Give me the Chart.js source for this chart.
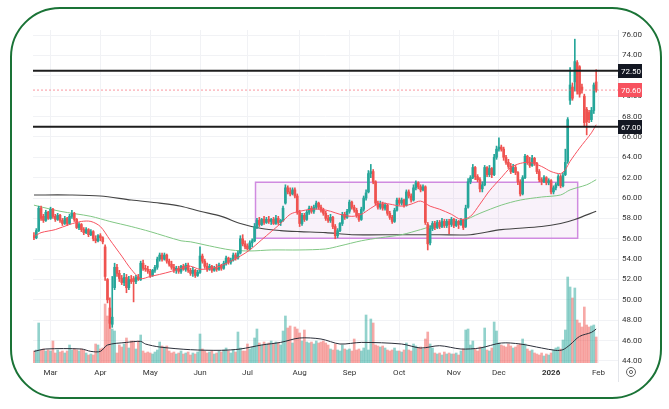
<!DOCTYPE html>
<html>
<head>
<meta charset="utf-8">
<script src="https://cdn.jsdelivr.net/npm/chart.js@4/dist/chart.umd.min.js"></script>
<style>
  html, body { margin: 0; padding: 0; background: #fff; }
  #wrap { position: relative; width: 669px; height: 409px; }
  #frame {
    position: absolute; left: 10px; top: 7px; width: 652px; height: 392px;
    border: 2.2px solid #1a7336; border-radius: 50px; box-sizing: border-box;
    pointer-events: none;
  }
</style>
</head>
<body>
<div id="wrap">
  <canvas id="chart" width="669" height="409"></canvas>
  <div id="frame"></div>
</div>
<script>
// daily bars, index 0 = 20 Feb 2025 ... 237 = 30 Jan 2026
const opens = [56.3,56.1,56.8,59.0,58.2,57.8,58.6,58.0,58.9,58.2,57.9,58.3,57.8,57.5,58.0,57.5,58.2,58.5,57.9,57.1,
  57.4,56.9,56.6,56.9,56.4,56.7,56.0,55.8,56.3,56.1,55.2,52.0,49.2,47.6,51.2,53.2,52.6,52.1,51.7,52.2,
  51.2,52.0,52.1,51.8,52.2,52.0,53.6,53.1,53.0,52.8,52.4,52.9,53.2,54.0,54.4,54.0,54.4,53.8,53.5,53.2,
  52.9,53.1,52.8,53.3,53.0,53.4,52.9,52.6,52.9,52.4,52.7,54.3,53.8,53.3,53.0,53.3,52.9,53.1,53.0,53.4,
  53.1,53.6,54.1,53.7,53.9,54.4,54.1,54.6,56.0,55.5,55.3,55.0,55.6,55.8,57.2,57.8,57.4,57.9,57.6,57.9,
  57.7,57.9,57.5,58.0,57.6,57.8,59.5,61.0,60.6,60.4,60.8,60.2,58.6,57.5,58.3,57.9,58.6,59.0,58.7,59.1,
  59.5,59.1,58.8,58.5,58.0,57.8,58.1,57.2,56.3,56.8,57.5,58.4,58.1,58.7,59.6,59.1,58.8,58.3,57.9,58.9,
  60.0,60.6,62.4,62.6,61.6,59.5,59.1,59.4,59.0,59.3,58.5,58.1,57.7,58.8,59.8,59.5,59.8,59.3,60.6,60.2,
  59.8,61.0,61.5,61.1,60.8,61.1,57.4,55.6,57.0,57.5,57.1,57.6,57.2,57.7,57.3,57.7,57.4,57.9,57.3,57.7,
  57.4,57.8,57.2,59.1,61.6,62.0,63.0,62.1,61.8,60.9,61.3,63.0,62.3,62.9,62.3,64.0,64.8,65.0,64.8,64.0,
  63.5,63.1,62.6,63.0,62.5,61.6,60.4,62.0,64.1,63.5,63.2,63.9,63.4,62.6,61.8,61.6,62.0,61.5,61.7,60.6,
  61.0,61.3,62.1,61.2,62.3,63.6,69.6,70.9,71.4,73.3,72.9,70.9,70.0,68.7,68.4,67.7,68.6,71.4];
const highs = [56.6,57.0,59.2,59.2,58.4,58.8,58.7,59.1,59.0,58.4,58.5,58.4,58.0,58.2,58.1,58.4,58.8,58.6,58.0,57.6,
  57.5,57.1,57.1,57.0,56.9,56.8,56.3,56.4,56.5,56.2,55.4,52.1,50.2,52.3,53.6,53.5,52.9,52.4,52.6,52.5,
  52.3,52.4,52.3,52.4,52.5,53.8,53.9,53.4,53.3,53.0,53.0,53.4,54.2,54.6,54.6,54.6,54.5,54.0,53.8,53.5,
  53.3,53.3,53.4,53.5,53.6,53.6,53.1,53.2,53.0,52.9,55.2,54.5,54.0,53.6,53.5,53.4,53.3,53.5,53.6,53.5,
  53.8,54.3,54.2,54.1,54.6,54.6,54.8,56.3,56.4,55.8,55.5,55.8,56.0,57.5,58.0,58.1,58.0,58.2,58.1,58.2,
  58.0,58.1,58.3,58.2,57.9,59.2,61.3,61.2,61.0,61.0,61.0,60.4,58.8,58.5,58.5,58.8,59.2,59.2,59.3,59.7,
  59.6,59.3,59.0,58.7,58.3,58.4,58.2,57.4,57.0,57.6,58.6,58.6,58.9,59.8,59.7,59.3,59.0,58.5,59.1,60.2,
  60.8,62.7,63.3,62.8,61.7,59.7,59.7,59.6,59.5,59.4,58.7,58.3,59.0,60.0,60.0,60.0,59.9,60.8,60.8,60.4,
  61.3,61.7,61.6,61.3,61.3,61.2,57.6,57.3,57.7,57.7,57.8,57.8,58.0,57.9,57.9,57.9,58.1,58.0,57.9,57.8,
  58.0,57.9,59.3,61.9,62.2,63.3,63.1,62.3,62.0,61.6,63.2,63.1,63.2,63.0,64.3,65.1,65.9,65.2,65.0,64.2,
  63.8,63.4,63.3,63.2,62.6,61.8,62.2,64.3,64.2,64.0,64.2,64.0,63.5,62.8,62.0,62.2,62.1,61.9,61.8,61.2,
  61.5,62.3,62.3,62.5,64.8,67.9,72.8,71.3,75.6,73.5,73.0,71.2,70.2,68.9,68.6,68.9,71.3,72.6];
const lows = [55.9,56.0,56.7,57.8,57.6,57.7,57.9,57.9,58.0,57.7,57.8,57.6,57.3,57.4,57.3,57.4,58.0,57.7,57.0,56.9,
  56.7,56.4,56.5,56.2,56.3,55.8,55.6,55.7,55.8,55.5,51.9,49.7,47.2,47.3,51.0,52.3,51.8,51.5,51.4,50.7,
  51.0,51.6,49.8,51.6,51.9,51.9,52.9,52.8,52.6,52.2,52.3,52.7,53.0,53.8,53.8,53.9,53.6,53.3,53.0,52.7,
  52.6,52.6,52.6,52.9,52.8,52.7,52.4,52.3,52.2,52.3,52.6,53.6,53.1,52.8,52.9,52.7,52.8,52.8,52.9,52.9,
  53.0,53.4,53.5,53.5,53.8,53.9,54.0,54.5,55.3,55.0,54.9,54.9,55.2,55.7,57.0,57.2,57.3,57.4,57.5,57.5,
  57.4,57.4,57.4,57.4,57.3,57.7,59.4,60.4,60.2,60.3,60.0,58.4,57.2,57.3,57.7,57.8,58.4,58.5,58.5,58.9,
  58.9,58.6,58.3,57.8,57.6,57.6,57.0,56.0,56.1,56.7,57.3,57.9,58.0,58.5,58.9,58.6,58.1,57.7,57.8,58.7,
  59.8,60.5,62.0,61.4,59.3,58.9,58.9,58.8,58.8,58.3,57.9,57.5,57.6,58.7,59.3,59.3,59.1,59.2,60.0,59.6,
  59.7,60.8,60.9,60.6,60.7,57.4,54.9,55.4,56.8,56.9,57.0,57.0,57.1,57.1,57.1,56.5,57.2,57.1,57.2,57.0,
  57.3,56.9,57.1,59.0,61.4,61.9,61.8,61.6,60.6,60.6,61.2,62.1,62.1,62.0,62.2,63.8,64.6,64.6,63.7,63.3,
  62.9,62.4,62.5,62.3,61.3,60.2,60.3,61.9,63.3,63.0,63.1,63.2,62.4,61.6,61.3,61.5,61.3,61.3,60.4,60.4,
  60.8,61.2,61.0,61.1,62.2,63.4,69.2,69.6,70.5,70.2,69.9,70.3,67.1,66.2,67.4,67.5,68.3,70.4];
const closes = [56.1,56.8,59.0,58.0,57.8,58.6,58.0,58.9,58.2,57.9,58.3,57.8,57.5,58.0,57.5,58.2,58.5,57.9,57.1,57.4,
  56.9,56.6,56.9,56.4,56.7,56.0,55.8,56.3,56.1,55.7,52.3,50.0,47.7,48.3,53.2,52.6,52.1,51.7,52.2,51.2,
  52.0,51.8,51.8,52.2,52.0,53.6,53.1,53.0,52.8,52.4,52.9,53.2,54.0,54.4,54.0,54.4,53.8,53.5,53.2,52.9,
  53.1,52.8,53.3,53.0,53.4,52.9,52.6,52.9,52.4,52.7,54.3,53.8,53.3,53.0,53.3,52.9,53.1,53.0,53.4,53.1,
  53.6,54.1,53.7,53.9,54.4,54.1,54.6,56.0,55.5,55.2,55.0,55.6,55.8,57.2,57.8,57.4,57.9,57.6,57.9,57.7,
  57.9,57.5,58.0,57.6,57.8,59.0,61.0,60.6,60.4,60.8,60.2,58.6,57.5,58.3,57.9,58.6,59.0,58.7,59.1,59.5,
  59.1,58.8,58.5,58.0,57.8,58.1,57.2,56.3,56.8,57.5,58.4,58.1,58.7,59.6,59.1,58.8,58.3,57.9,58.9,60.0,
  60.5,62.4,62.6,61.6,59.5,59.1,59.4,59.0,59.3,58.5,58.1,57.7,58.8,59.8,59.5,59.8,59.3,60.6,60.2,59.8,
  61.0,61.5,61.1,60.8,61.1,57.6,55.5,57.0,57.5,57.1,57.6,57.2,57.7,57.3,57.7,57.4,57.9,57.3,57.7,57.4,
  57.8,57.1,59.0,61.6,62.0,63.0,62.1,61.8,60.9,61.3,63.0,62.3,62.9,62.3,64.0,64.8,65.0,64.8,64.0,63.5,
  63.1,62.6,63.0,62.5,61.6,60.4,62.0,64.1,63.5,63.2,63.9,63.4,62.6,61.8,61.6,62.0,61.5,61.7,60.6,61.0,
  61.3,62.1,61.2,62.2,63.5,67.7,71.1,69.8,73.4,70.5,70.2,70.6,67.4,67.5,67.7,68.6,71.1,70.6];
const volumes = [1.2,1.3,4.0,1.3,1.4,1.2,1.3,1.2,2.2,1.0,1.3,1.1,1.2,1.0,1.2,1.8,1.3,1.4,1.3,1.2,
  1.4,1.3,1.0,0.8,0.9,0.8,1.9,1.8,1.4,1.5,5.9,4.7,4.3,3.4,3.2,1.0,1.8,1.6,1.9,2.5,
  1.5,2.2,2.2,1.4,2.2,2.8,1.2,1.0,1.1,1.0,0.9,1.1,1.3,2.1,1.7,1.6,1.7,1.2,1.0,1.1,
  0.9,1.0,1.2,0.9,1.0,1.1,0.8,1.0,0.9,1.1,2.9,1.4,1.2,1.0,1.1,1.2,0.9,1.0,1.2,1.1,
  1.3,1.5,1.2,1.0,1.3,1.1,3.1,1.5,1.2,1.2,1.9,1.4,1.6,2.5,3.4,2.0,1.8,2.1,1.9,2.0,
  2.2,1.9,2.1,2.0,1.8,3.2,4.7,3.5,3.7,2.0,3.6,3.4,3.0,2.2,3.3,2.1,2.0,2.1,1.9,2.2,
  2.0,2.1,2.2,2.0,1.8,1.4,1.3,1.9,1.3,1.2,1.8,1.4,1.3,1.4,1.2,2.4,1.3,1.4,1.2,1.5,
  4.8,1.3,4.4,4.0,1.8,1.7,1.6,1.7,1.5,1.3,1.2,1.3,1.5,1.2,1.2,1.1,1.3,2.0,1.3,1.2,
  1.9,1.7,1.5,1.6,1.4,2.4,3.1,1.9,1.5,1.0,0.9,1.0,0.8,1.1,0.9,1.0,0.9,0.9,1.0,0.8,
  1.2,1.4,3.3,3.4,1.8,2.2,1.4,1.2,1.6,1.5,3.5,1.3,1.2,1.5,4.1,3.2,2.0,1.8,1.7,1.6,
  1.9,1.7,1.5,1.6,1.8,1.9,2.4,1.9,1.4,1.2,1.3,1.0,0.9,0.8,1.0,0.7,0.9,0.8,1.0,1.3,
  1.5,1.6,1.4,2.3,3.3,8.6,7.6,6.5,7.5,4.3,4.0,3.6,5.6,3.8,3.6,3.7,3.8,2.6];

// moving averages as [bar index, value]
const ma20 = [[0,56.2],[3,56.6],[9,56.9],[15,57.4],[20,57.7],[24,57.7],[28,57.2],[32,55.9],[37,54.3],[41,53.0],
  [45,52.1],[49,52.3],[53,52.5],[58,52.8],[62,53.1],[66,53.3],[70,53.0],[77,53.2],[83,53.8],[87,54.3],
  [91,54.9],[96,55.9],[100,56.7],[104,57.5],[108,58.4],[112,58.7],[117,58.9],[121,58.9],[125,58.7],[129,58.4],
  [134,58.2],[138,58.4],[142,59.0],[146,59.5],[150,59.4],[155,59.2],[159,59.4],[163,59.7],[167,59.2],[171,58.9],
  [176,58.4],[180,57.9],[184,58.2],[188,59.4],[192,60.7],[197,62.0],[201,63.0],[205,63.4],[209,63.5],[214,63.1],
  [218,62.6],[222,62.4],[224,62.8],[226,63.6],[230,64.9],[235,66.4],[237,67.2]];
const ma50 = [[0,59.3],[11,58.7],[24,58.2],[32,57.7],[41,57.2],[49,56.7],[62,55.8],[66,55.7],[74,55.3],[83,54.9],
  [91,54.8],[100,54.9],[112,54.9],[123,55.0],[129,55.3],[138,55.8],[146,56.1],[155,56.4],[163,56.9],[169,57.3],
  [180,57.7],[188,58.5],[197,59.3],[205,59.8],[214,60.1],[222,60.3],[226,60.8],[233,61.3],[237,61.8]];
const ma200 = [[0,60.3],[15,60.3],[28,60.2],[41,59.8],[53,59.5],[62,59.2],[70,58.7],[79,58.2],[87,57.5],[96,57.0],
  [104,56.8],[112,56.7],[123,56.6],[134,56.4],[155,56.4],[171,56.4],[184,56.4],[197,56.9],[214,57.2],[222,57.5],
  [228,57.9],[237,58.7]];
const volMa = [[0,1.16],[5,1.4],[20,1.4],[24,1.16],[28,1.16],[31,1.8],[39,2.06],[45,2.16],[47,1.9],[53,1.6],
  [66,1.33],[79,1.27],[87,1.4],[96,1.8],[104,2.06],[112,2.5],[121,2.4],[129,1.9],[138,2.06],[155,1.9],
  [163,1.5],[171,1.73],[180,1.4],[188,1.5],[197,2.0],[205,1.9],[214,1.5],[220,1.26],[223,1.33],[226,1.83],
  [230,2.66],[235,3.06],[237,3.4]];

const levels = [72.5, 67.0];
const lastPrice = 70.6;
const rangeBox = { from: 93.4, to: 229.2, low: 56.05, high: 61.55 };

const monthTicks = [7, 28, 49, 70, 90, 112, 133, 154, 177, 196, 218, 238];
const monthLabels = ['Mar', 'Apr', 'May', 'Jun', 'Jul', 'Aug', 'Sep', 'Oct', 'Nov', 'Dec', '2026', 'Feb'];
const priceTicks = [44, 46, 48, 50, 52, 54, 56, 58, 60, 62, 64, 66, 68, 70, 72, 74, 76];

const UP = '#26a69a', DOWN = '#ef5350';
const X_MIN = -0.4, X_MAX = 246.2;
const FONT = 'Roboto, "Liberation Sans", sans-serif';

const isUp = opens.map((o, i) => closes[i] >= o);
const pts = arr => arr.map(p => ({ x: p[0], y: p[1] }));

const wickData = highs.map((h, i) => ({ x: i, y: [lows[i], h] }));
const bodyData = opens.map((o, i) => ({ x: i, y: [o, closes[i]] }));
const volData = volumes.map((v, i) => ({ x: i, y: v }));

const hline = (v) => [{ x: X_MIN, y: v }, { x: X_MAX, y: v }];

const overlay = {
  id: 'overlay',
  beforeDatasetsDraw(chart) {
    const { ctx, scales: { x, y } } = chart;
    const x0 = x.getPixelForValue(rangeBox.from), x1 = x.getPixelForValue(rangeBox.to);
    const y0 = y.getPixelForValue(rangeBox.high), y1 = y.getPixelForValue(rangeBox.low);
    ctx.save();
    ctx.fillStyle = 'rgba(206,147,216,0.12)';
    ctx.fillRect(x0, y0, x1 - x0, y1 - y0);
    ctx.strokeStyle = '#d08be0';
    ctx.lineWidth = 1.5;
    ctx.strokeRect(x0, y0, x1 - x0, y1 - y0);
    ctx.restore();
  },
  afterDraw(chart) {
    const { ctx, chartArea, scales: { y } } = chart;
    ctx.save();
    // price axis separator, full height
    ctx.strokeStyle = '#e3e5ea';
    ctx.lineWidth = 1;
    ctx.beginPath();
    ctx.moveTo(chartArea.right + 0.5, chartArea.top);
    ctx.lineTo(chartArea.right + 0.5, 382);
    ctx.stroke();

    const tags = [
      { v: levels[0], bg: '#131722', t: '72.50' },
      { v: lastPrice, bg: '#f7525f', t: '70.60' },
      { v: levels[1], bg: '#131722', t: '67.00' }
    ];
    ctx.font = '8px ' + FONT;
    ctx.textBaseline = 'middle';
    tags.forEach(tag => {
      const py = Math.round(y.getPixelForValue(tag.v));
      ctx.fillStyle = tag.bg;
      ctx.fillRect(chartArea.right, py - 7, 24, 14);
      ctx.fillStyle = '#fff';
      ctx.fillText(tag.t, chartArea.right + 3, py + 0.5);
    });

    // settings icon
    ctx.strokeStyle = '#666';
    ctx.lineWidth = 1;
    ctx.beginPath();
    ctx.arc(631, 372, 4.5, 0, Math.PI * 2);
    ctx.stroke();
    ctx.beginPath();
    ctx.arc(631, 372, 1.6, 0, Math.PI * 2);
    ctx.stroke();
    ctx.restore();
  }
};

new Chart(document.getElementById('chart'), {
  data: {
    datasets: [
      {
        type: 'bar', label: 'Volume', yAxisID: 'v', data: volData, order: 10,
        backgroundColor: isUp.map(u => u ? 'rgba(38,166,154,0.5)' : 'rgba(239,83,80,0.5)'),
        barThickness: 2, grouped: false, borderWidth: 0
      },
      {
        type: 'line', label: 'Vol MA', yAxisID: 'v', data: pts(volMa), order: 9,
        borderColor: '#2a2e39', borderWidth: 1, pointRadius: 0, tension: 0.3
      },
      {
        type: 'line', label: 'SMA 200', data: pts(ma200), order: 8,
        borderColor: '#444', borderWidth: 1.1, pointRadius: 0, tension: 0.3
      },
      {
        type: 'line', label: 'SMA 50', data: pts(ma50), order: 7,
        borderColor: '#81c784', borderWidth: 1, pointRadius: 0, tension: 0.3
      },
      {
        type: 'bar', label: 'Wicks', data: wickData, order: 5,
        backgroundColor: isUp.map(u => u ? UP : DOWN),
        barThickness: 1, grouped: false, borderWidth: 0
      },
      {
        type: 'bar', label: 'Bodies', data: bodyData, order: 4,
        backgroundColor: isUp.map(u => u ? UP : DOWN),
        barThickness: 2, grouped: false, borderWidth: 0, minBarLength: 1
      },
      {
        type: 'line', label: 'SMA 20', data: pts(ma20), order: 3,
        borderColor: '#f7525f', borderWidth: 1, pointRadius: 0, tension: 0.3
      },
      {
        type: 'line', label: 'Last', data: hline(lastPrice), order: 2,
        borderColor: 'rgba(247,82,95,0.6)', borderWidth: 1, borderDash: [2, 2], pointRadius: 0
      },
      {
        type: 'line', label: 'Level 1', data: hline(levels[0]), order: 1,
        borderColor: '#1e1e1e', borderWidth: 1.8, pointRadius: 0
      },
      {
        type: 'line', label: 'Level 2', data: hline(levels[1]), order: 1,
        borderColor: '#1e1e1e', borderWidth: 1.8, pointRadius: 0
      }
    ]
  },
  options: {
    responsive: false,
    animation: false,
    devicePixelRatio: 1,
    layout: { padding: { left: 33, top: 30, right: 0, bottom: 0 } },
    plugins: { legend: { display: false }, tooltip: { enabled: false } },
    scales: {
      x: {
        type: 'linear', min: X_MIN, max: X_MAX, offset: false,
        afterBuildTicks: s => { s.ticks = monthTicks.map(v => ({ value: v })); },
        afterFit: s => { s.height = 46; },
        ticks: {
          autoSkip: false, maxRotation: 0, padding: 5, color: '#333',
          callback: v => monthLabels[monthTicks.indexOf(v)],
          font: c => ({ family: FONT, size: 8, weight: (c.tick && c.tick.value === 218) ? 'bold' : 'normal' })
        },
        grid: { color: '#f1f2f5', drawTicks: false, offset: false },
        border: { display: false }
      },
      y: {
        position: 'right', min: 43.8, max: 76.5,
        afterBuildTicks: s => { s.ticks = priceTicks.map(v => ({ value: v })); },
        afterFit: s => { s.width = 51; },
        ticks: {
          padding: 4, color: '#333', font: { family: FONT, size: 8 },
          callback: v => v.toFixed(2)
        },
        grid: { color: '#f1f2f5', drawTicks: false },
        border: { display: false }
      },
      v: { display: false, min: 0, max: 33.3 }
    }
  },
  plugins: [overlay]
});
</script>
</body>
</html>
